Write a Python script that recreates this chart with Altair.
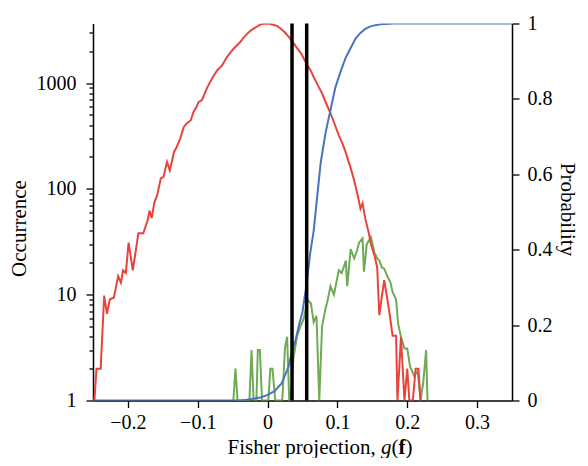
import altair as alt
import pandas as pd

# ---------------- data ----------------
red_x = [-0.248, -0.245, -0.239, -0.234, -0.230, -0.226, -0.220, -0.214, -0.210, -0.207,
         -0.203, -0.199, -0.193, -0.185, -0.178, -0.172, -0.169, -0.166, -0.162, -0.158,
         -0.153, -0.149, -0.144, -0.140, -0.134, -0.130, -0.125, -0.120, -0.115, -0.110,
         -0.106, -0.102, -0.099, -0.094, -0.087, -0.082, -0.077, -0.072, -0.065, -0.058,
         -0.053, -0.048, -0.043, -0.039, -0.034, -0.029, -0.025, -0.020, -0.015, -0.010,
         -0.003, 0.003, 0.009, 0.014, 0.019, 0.025, 0.031, 0.036, 0.042, 0.048,
         0.053, 0.057, 0.062, 0.066, 0.072, 0.078, 0.084, 0.090, 0.096, 0.102,
         0.107, 0.111, 0.115, 0.119, 0.124, 0.129, 0.133, 0.136, 0.140, 0.145,
         0.148, 0.153, 0.157, 0.160, 0.164, 0.167, 0.171, 0.174, 0.179, 0.184,
         0.186, 0.191, 0.196, 0.200, 0.203, 0.208, 0.212, 0.216, 0.219]
red_y = [1, 2, 2, 9.8, 6.6, 9, 9.4, 15, 13, 17,
         16, 31, 17, 38, 38, 50, 62, 53, 75, 87,
         125, 130, 180, 150, 222, 250, 300, 385, 420, 445,
         535, 590, 660, 690, 890, 1030, 1180, 1320, 1475, 1770,
         1950, 2130, 2300, 2450, 2700, 2930, 3100, 3260, 3420, 3580,
         3650, 3620, 3530, 3450, 3260, 3000, 2700, 2450, 2150, 1900,
         1650, 1475, 1300, 1140, 950, 800, 640, 520, 410, 320,
         270, 230, 190, 157, 120, 87, 65, 73, 52, 38,
         30, 23.5, 18, 6.4, 10, 13.7, 9.5, 7.1, 4.1, 4.1,
         1, 4, 1, 2, 1, 1, 2, 2, 1]

green_x = [-0.049, -0.046, -0.043, -0.026, -0.023, -0.020, -0.016, -0.014, -0.011, -0.008,
           0.001, 0.004, 0.007, 0.011, 0.021, 0.025, 0.028, 0.031, 0.033, 0.037,
           0.042, 0.047, 0.052, 0.057, 0.062, 0.066, 0.070, 0.074, 0.078, 0.083,
           0.086, 0.090, 0.095, 0.102, 0.106, 0.110, 0.112, 0.114, 0.119, 0.124,
           0.128, 0.131, 0.136, 0.138, 0.142, 0.148, 0.153, 0.157, 0.160, 0.164,
           0.167, 0.172, 0.176, 0.179, 0.184, 0.187, 0.191, 0.196, 0.200, 0.204,
           0.210, 0.215, 0.219, 0.223, 0.227, 0.229]
green_y = [1, 2, 1, 1, 3, 1, 1, 3, 3, 1,
           1, 2, 2, 1, 1, 3.2, 4, 1, 1, 2.5,
           4, 5, 6, 9, 8.3, 5.5, 6.3, 1, 5, 7.4,
           8.8, 12, 10, 17, 16, 19, 21, 12, 27, 22,
           26, 31, 34, 16.5, 30, 35, 25, 22, 21, 18,
           17.6, 14.7, 13, 10.6, 9, 5.3, 4, 3.1, 3.1, 2.1,
           1.7, 1.9, 1, 1.5, 3, 1]

blue_x = [-0.25, -0.04, -0.03, -0.02, -0.01, 0.0, 0.01, 0.02, 0.03, 0.035,
          0.04, 0.045, 0.05, 0.056, 0.061, 0.066, 0.071, 0.076, 0.083, 0.090,
          0.097, 0.105, 0.112, 0.119, 0.126, 0.133, 0.140, 0.148, 0.162, 0.18, 0.35]
blue_p = [0, 0, 0.002, 0.005, 0.008, 0.015, 0.025, 0.045, 0.09, 0.13,
          0.16, 0.20, 0.235, 0.31, 0.39, 0.45, 0.54, 0.63, 0.71, 0.77,
          0.83, 0.875, 0.91, 0.935, 0.96, 0.975, 0.986, 0.993, 0.998, 1.0, 1.0]

thresholds = [0.035, 0.056]

x_ticks = [-0.2, -0.1, 0, 0.1, 0.2, 0.3]
log_ticks = [1, 2, 3, 4, 5, 6, 7, 8, 9,
             10, 20, 30, 40, 50, 60, 70, 80, 90,
             100, 200, 300, 400, 500, 600, 700, 800, 900,
             1000, 2000, 3000]
log_major = [1, 10, 100, 1000]
p_ticks = [0, 0.2, 0.4, 0.6, 0.8, 1]

# ---------------- style ----------------
FONT = "Liberation Serif"
RED = "#e8433c"
GREEN = "#6fab55"
BLUE = "#4a72c2"
W, H = 419, 377

red_df = pd.DataFrame({"g": red_x, "n": red_y})
green_df = pd.DataFrame({"g": green_x, "n": green_y})
blue_df = pd.DataFrame({"g": blue_x, "p": blue_p})
thr_df = pd.DataFrame({"g": thresholds})

xscale = alt.Scale(domain=[-0.25, 0.35], nice=False, zero=False)
logscale = alt.Scale(type="log", domain=[1, 3650], nice=False)
pscale = alt.Scale(domain=[0, 1], nice=False, zero=False)

major_test = "indexof(" + str(log_major) + ", datum.value) >= 0"

xaxis = alt.Axis(
    values=x_ticks,
    labelExpr="replace(format(datum.value, '.1~f'), '-', '\u2212')",
    title=None, grid=False, tickSize=7, labelPadding=5,
)
laxis = alt.Axis(
    values=log_ticks,
    labelExpr=major_test + " ? '' + datum.value : ''",
    tickSize={"condition": {"test": major_test, "value": 7}, "value": 4},
    title="Occurrence", titleAngle=-90, titleX=-74, titleY=204.5,
    titleAlign="center", titleBaseline="middle",
    grid=False, labelPadding=10, orient="left",
)
raxis = alt.Axis(
    values=p_ticks,
    labelExpr="format(datum.value, '.1~f')",
    title="Probability", titleAngle=90, titleX=54, titleY=185.5,
    titleAlign="center", titleBaseline="middle",
    grid=False, tickSize=7, labelPadding=8, orient="right",
)

green_line = alt.Chart(green_df).mark_line(color=GREEN, strokeWidth=2, clip=True).encode(
    x=alt.X("g:Q", scale=xscale, axis=xaxis),
    y=alt.Y("n:Q", scale=logscale, axis=laxis),
)
red_line = alt.Chart(red_df).mark_line(color=RED, strokeWidth=2, clip=True).encode(
    x=alt.X("g:Q", scale=xscale),
    y=alt.Y("n:Q", scale=logscale),
)
left = alt.layer(green_line, red_line)

blue_line = alt.Chart(blue_df).mark_line(color=BLUE, strokeWidth=2, clip=True).encode(
    x=alt.X("g:Q", scale=xscale),
    y=alt.Y("p:Q", scale=pscale, axis=raxis),
)

rules = alt.Chart(thr_df).mark_rule(color="black", strokeWidth=3.5).encode(
    x=alt.X("g:Q", scale=xscale),
)

# x-axis title composed of styled pieces
TY = 430.5
tfs = 21
def piece(txt, x, style="normal", weight="normal"):
    return alt.Chart(pd.DataFrame({"t": [txt]})).mark_text(
        font=FONT, fontSize=tfs, fontStyle=style, fontWeight=weight,
        align="left", baseline="alphabetic", color="black",
    ).encode(text="t:N", x=alt.value(x), y=alt.value(TY))

title_parts = [
    piece("Fisher projection,", 134.6),
    piece("g", 288.0, style="italic"),
    piece("(", 298.5),
    piece("f", 305.5, weight="bold"),
    piece(")", 312.5),
]

chart = alt.layer(left, blue_line, rules, *title_parts).resolve_scale(
    y="independent"
).properties(
    width=W, height=H,
    autosize=alt.AutoSizeParams(type="none"),
    padding={"left": 85, "top": 15.5, "right": 68, "bottom": 57.5},
).configure_view(stroke=None).configure_axis(
    labelFont=FONT, labelFontSize=20, labelColor="black",
    titleFont=FONT, titleFontSize=21, titleColor="black", titleFontWeight="normal",
    domainColor="black", domainWidth=1.5, tickColor="black", tickWidth=1.3,
)

chart.save("out.html", embed_options={"renderer": "svg", "actions": False})
